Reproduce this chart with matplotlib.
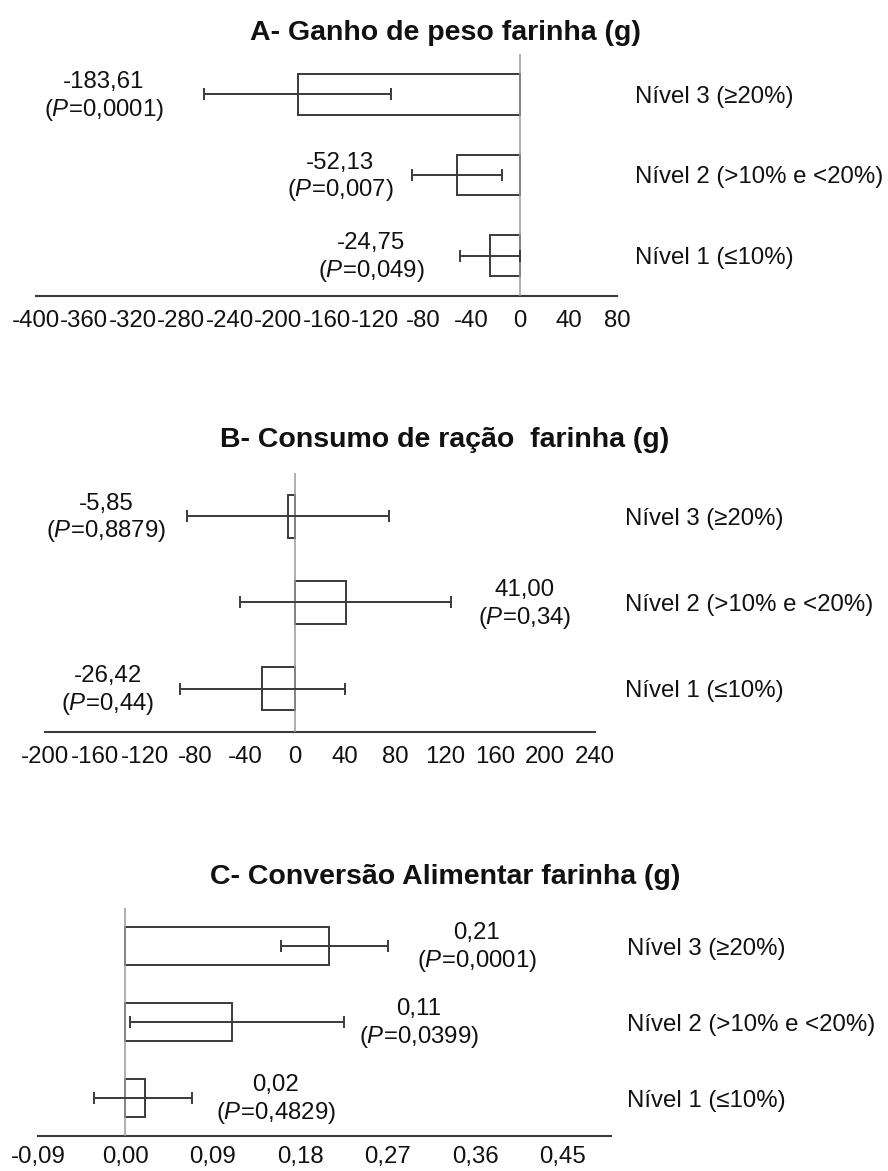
import numpy as np
import matplotlib
matplotlib.use("Agg")
import matplotlib.pyplot as plt

plt.rcParams['font.family'] = ['Liberation Sans', 'DejaVu Sans']
plt.rcParams['mathtext.fontset'] = 'custom'
plt.rcParams['mathtext.rm'] = 'Liberation Sans'
plt.rcParams['mathtext.it'] = 'Liberation Sans:italic'

# categories (bottom to top)
niveis = ["Nível 1 (≤10%)", "Nível 2 (>10% e <20%)", "Nível 3 (≥20%)"]

# A - ganho de peso
ganho_val = [-24.75, -52.13, -183.61]
ganho_low = [-50, -89, -261]
ganho_high = [0, -15, -107]
ganho_txt = ["-24,75", "-52,13", "-183,61"]
ganho_p = ["0,049", "0,007", "0,0001"]
ganho_ticks = [-400, -360, -320, -280, -240, -200, -160, -120, -80, -40, 0, 40, 80]

# B - consumo de racao
consumo_val = [-26.42, 41.00, -5.85]
consumo_low = [-92, -44, -86.5]
consumo_high = [40, 125, 75]
consumo_txt = ["-26,42", "41,00", "-5,85"]
consumo_p = ["0,44", "0,34", "0,8879"]
consumo_ticks = [-200, -160, -120, -80, -40, 0, 40, 80, 120, 160, 200, 240]

# C - conversao alimentar
conv_val = [0.02, 0.11, 0.21]
conv_low = [-0.032, 0.005, 0.160]
conv_high = [0.069, 0.225, 0.270]
conv_txt = ["0,02", "0,11", "0,21"]
conv_p = ["0,4829", "0,0399", "0,0001"]
conv_ticks = [-0.09, 0.0, 0.09, 0.18, 0.27, 0.36, 0.45]
conv_ticklabels = ["-0,09", "0,00", "0,09", "0,18", "0,27", "0,36", "0,45"]

W, H = 888, 1171
fig = plt.figure(figsize=(W / 100, H / 100), dpi=100)

dark = '#3a3a3a'
txtcol = '#111111'
fs = 17.3


def painel(box, vals, low, high, labels, pvals, label_x, xlim, ticks, ticklabels, rpad, xpad, titulo, ty):
    l, t, r, b = box
    ax = fig.add_axes([l / W, 1 - b / H, (r - l) / W, (b - t) / H])
    y = np.arange(len(vals))
    vals = np.array(vals)
    xerr = [vals - np.array(low), np.array(high) - vals]
    ax.barh(y, vals, height=0.5, color='white', edgecolor=dark, linewidth=1.4, zorder=2)
    ax.axvline(0, color='#9a9a9a', lw=1.1, zorder=3)
    ax.errorbar(vals, y, xerr=xerr, fmt='none', ecolor=dark, elinewidth=1.4,
                capsize=4, capthick=1.4, zorder=4)
    for i in range(len(vals)):
        ax.annotate(labels[i], (label_x[i], y[i]), xytext=(0, 9), textcoords='offset points',
                    ha='center', va='center', fontsize=fs, color=txtcol)
        ax.annotate("($\\mathit{P}$=" + pvals[i] + ")", (label_x[i], y[i]), xytext=(0, -11),
                    textcoords='offset points', ha='center', va='center', fontsize=fs, color=txtcol)
    ax.set_xlim(xlim)
    ax.set_ylim(-0.5, 2.5)
    ax.set_xticks(ticks)
    ax.set_xticklabels(ticklabels, fontsize=fs, color=txtcol)
    ax.yaxis.tick_right()
    ax.set_yticks(y)
    ax.set_yticklabels(niveis, fontsize=fs, color=txtcol)
    ax.tick_params(axis='both', length=0)
    ax.tick_params(axis='x', pad=xpad)
    ax.tick_params(axis='y', pad=rpad)
    for s in ['top', 'right', 'left']:
        ax.spines[s].set_visible(False)
    ax.spines['bottom'].set_color(dark)
    ax.spines['bottom'].set_linewidth(1.5)
    fig.text(445 / W, 1 - ty / H, titulo, ha='center', va='center', fontsize=20.5,
             fontweight='bold', color=txtcol)
    return ax


painel((36, 54, 617, 296), ganho_val, ganho_low, ganho_high, ganho_txt, ganho_p,
       [-123, -149, -344], (-400, 80), ganho_ticks, [str(v) for v in ganho_ticks], 13, 10,
       "A- Ganho de peso farinha (g)", 33)

painel((45, 473, 595, 732), consumo_val, consumo_low, consumo_high, consumo_txt, consumo_p,
       [-150, 184, -151], (-200, 240), consumo_ticks, [str(v) for v in consumo_ticks], 21.6, 10,
       "B- Consumo de ração  farinha (g)", 440)

painel((38, 908, 611, 1136), conv_val, conv_low, conv_high, conv_txt, conv_p,
       [0.155, 0.302, 0.362], (-0.09, 0.5), conv_ticks, conv_ticklabels, 11.5, 7,
       "C- Conversão Alimentar farinha (g)", 877)

fig.savefig("out.png", dpi=100, facecolor='white')
